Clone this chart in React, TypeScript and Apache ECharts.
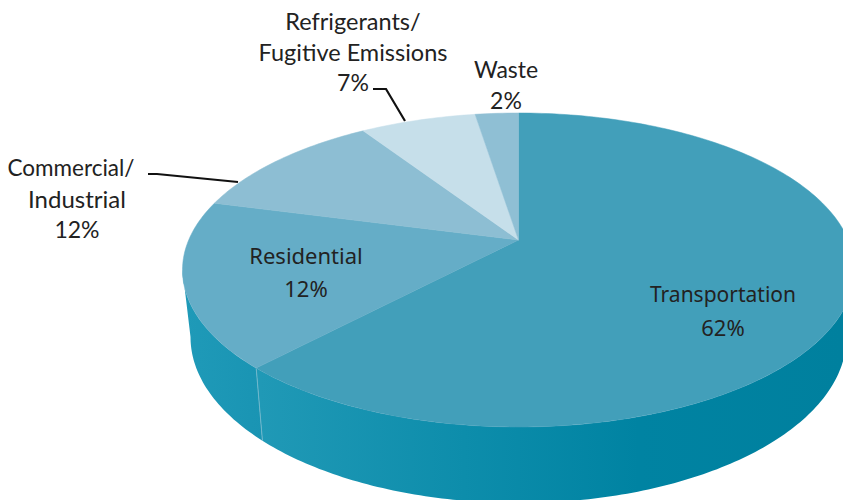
import React, { useEffect, useRef } from "react";
import * as echarts from "echarts";

// Wedge sizes, clockwise from 12 o'clock (percent of the circle).
const sliceNames = ["Transportation", "Residential", "Commercial/Industrial", "Refrigerants/Fugitive Emissions", "Waste"];
const wedgeShares = [62, 17.1, 11.7, 6.7, 2.5];
// Percentages as printed on the picture.
const printedLabels = ["62%", "12%", "12%", "7%", "2%"];
const topColors = ["#429FBA", "#65ADC7", "#8DBED3", "#C6DFEA", "#8FBFD4"];

const TOP = { cx: 518.5, cy: 270, rx: 336, ry: 157 };
const BOTTOM = { cx: 518.5, cy: 337, rx: 328, ry: 166 };
const APEX_Y = 240;

const klein = (TOP.cy - APEX_Y) / TOP.ry;
const poincare = (1 - Math.sqrt(1 - klein * klein)) / klein;
const squeeze = (1 - poincare) / (1 + poincare);

// Circle angle (radians from top, clockwise) -> ellipse parameter, perspective with the centre at the apex.
const project = (theta: number) => 2 * Math.atan2(squeeze * Math.sin(theta / 2), Math.cos(theta / 2));
const rimPoint = (e: typeof TOP, phi: number) => [e.cx + e.rx * Math.sin(phi), e.cy - e.ry * Math.cos(phi)];

const total = wedgeShares.reduce((a, b) => a + b, 0);
const bounds: number[] = [0];
wedgeShares.forEach((v, i) => bounds.push(bounds[i] + (v / total) * Math.PI * 2));

const arcPhis = (from: number, to: number) => {
  const out: number[] = [];
  const steps = Math.max(2, Math.ceil(Math.abs(to - from) / (Math.PI / 180)));
  for (let i = 0; i <= steps; i++) out.push(from + ((to - from) * i) / steps);
  return out;
};
const phiOf = (theta: number) => {
  const p = project(theta);
  return p < 0 ? p + Math.PI * 2 : p;
};

const topRenderItem = (_: any, api: any) => {
  const i = api.value(0);
  const a = bounds[i];
  const b = bounds[i + 1];
  const phiA = a === 0 ? 0 : phiOf(a);
  const phiB = i === wedgeShares.length - 1 ? Math.PI * 2 : phiOf(b);
  const points = [[TOP.cx, APEX_Y], ...arcPhis(phiA, phiB).map((p) => rimPoint(TOP, p))];
  return {
    type: "polygon",
    shape: { points },
    style: { fill: topColors[i], stroke: topColors[i], lineWidth: 0.5 },
  };
};

const wallFill = (i: number) =>
  i === 0
    ? new echarts.graphic.LinearGradient(
        260, 0, 843, 0,
        [
          { offset: 0, color: "#2099B6" },
          { offset: 0.35, color: "#0D8DAB" },
          { offset: 0.65, color: "#0083A2" },
          { offset: 1, color: "#00809E" },
        ],
        true
      )
    : new echarts.graphic.LinearGradient(
        185, 0, 265, 0,
        [
          { offset: 0, color: "#1F9AB8" },
          { offset: 1, color: "#1994B3" },
        ],
        true
      );

const wallRenderItem = (_: any, api: any) => {
  const i = api.value(0);
  const phiA = Math.max(phiOf(bounds[i]) || 0, Math.PI / 2);
  const phiB = Math.min(i === wedgeShares.length - 1 ? Math.PI * 2 : phiOf(bounds[i + 1]), (Math.PI * 3) / 2);
  if (phiB <= phiA) return null;
  const phis = arcPhis(phiA, phiB);
  const points = [
    ...phis.map((p) => rimPoint(TOP, p)),
    ...phis.slice().reverse().map((p) => rimPoint(BOTTOM, p)),
  ];
  const children: any[] = [
    { type: "polygon", shape: { points }, style: { fill: wallFill(i) } },
  ];
  if (i === 1) {
    const s = rimPoint(TOP, phiA);
    const e = rimPoint(BOTTOM, phiA);
    children.push({
      type: "line",
      shape: { x1: s[0], y1: s[1], x2: e[0], y2: e[1] },
      style: { stroke: "#6FB7CC", lineWidth: 1 },
    });
  }
  return { type: "group", children };
};

const outerFont = "Lato, 'Noto Sans', sans-serif";
const innerFont = "'Noto Sans', sans-serif";

const textLabels: { text: string; x: number; y: number; font: string; size: number }[] = [
  { text: "Transportation", x: 723, y: 294, font: innerFont, size: 21 },
  { text: printedLabels[0], x: 723, y: 327, font: innerFont, size: 22 },
  { text: "Residential", x: 306, y: 255, font: innerFont, size: 22 },
  { text: printedLabels[1], x: 306, y: 288, font: innerFont, size: 22 },
  { text: "Commercial/", x: 71, y: 167, font: outerFont, size: 22.5 },
  { text: "Industrial", x: 77, y: 198, font: outerFont, size: 24 },
  { text: printedLabels[2], x: 77, y: 229, font: outerFont, size: 23 },
  { text: "Refrigerants/", x: 353, y: 21, font: outerFont, size: 23.5 },
  { text: "Fugitive Emissions", x: 353, y: 52, font: outerFont, size: 23.5 },
  { text: printedLabels[3], x: 353, y: 82, font: outerFont, size: 23 },
  { text: "Waste", x: 506, y: 69, font: outerFont, size: 23 },
  { text: printedLabels[4], x: 506, y: 100, font: outerFont, size: 23 },
];

const leaders = [
  [[148, 174], [157, 174], [238, 182]],
  [[373, 89], [386, 89], [405, 121]],
];

export default function App() {
  const ref = useRef<HTMLDivElement>(null);
  useEffect(() => {
    const chart = echarts.init(ref.current!, undefined, { renderer: "svg" });
    const ids = wedgeShares.map((_, i) => [i]);
    chart.setOption({
      animation: false,
      backgroundColor: "#ffffff",
      series: [
        { type: "custom", name: "wall", coordinateSystem: "none", silent: true, z: 1, data: ids, renderItem: wallRenderItem },
        {
          type: "custom",
          name: "Share",
          coordinateSystem: "none",
          silent: true,
          z: 2,
          data: ids.map((d, i) => ({ name: sliceNames[i], value: d })),
          renderItem: topRenderItem,
        },
      ],
      graphic: [
        ...leaders.map((points) => ({
          type: "polyline",
          z: 5,
          silent: true,
          shape: { points },
          style: { stroke: "#111111", lineWidth: 2.2, fill: "none" },
        })),
        ...textLabels.map((l) => ({
          type: "text",
          z: 6,
          silent: true,
          x: l.x,
          y: l.y,
          style: {
            text: l.text,
            font: `${l.size}px ${l.font}`,
            fill: "#222222",
            textAlign: "center",
            textVerticalAlign: "middle",
          },
        })),
      ],
    });
    return () => chart.dispose();
  }, []);
  return (
    <>
      <style>{`text[style*="Noto Sans"]:not([style*="Lato"]){font-feature-settings:"onum" 1;}`}</style>
      <div ref={ref} style={{ position: "fixed", left: 0, top: 0, width: 843, height: 500 }} />
    </>
  );
}
